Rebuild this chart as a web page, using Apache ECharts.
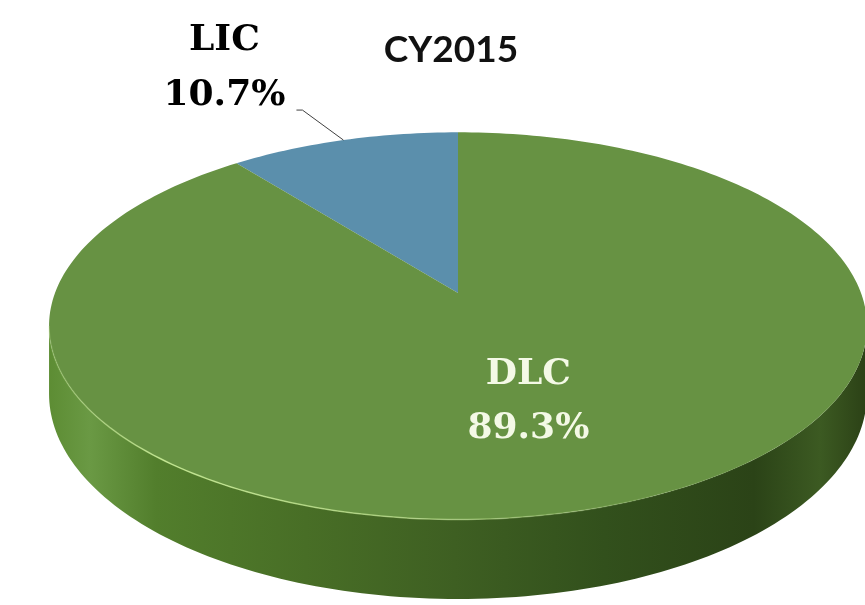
<!DOCTYPE html>
<html>
<head>
<meta charset="utf-8">
<script src="https://cdn.jsdelivr.net/npm/echarts@6/dist/echarts.min.js"></script>
<style>
html, body { margin: 0; padding: 0; background: #fff; }
#main { width: 865px; height: 605px; }
</style>
</head>
<body>
<div id="main"></div>
<script>
var title = "CY2015";
var categories = ["LIC", "DLC"];
var values = [10.7, 89.3];
var topColors = ["#5b8fac", "#679243"];

// fake 3D disc: perspective projection of a tilted circle
var CX = 458, CY = 293;
var A = 403, B = 188, G = 0.17, T = 66;
// slice i starts at startAngle going clockwise from 12 o'clock; LIC ends at top
var total = values[0] + values[1];
var angles = [];
var acc = -values[0] / total * Math.PI * 2;
for (var i = 0; i < values.length; i++) {
	var sweep = values[i] / total * Math.PI * 2;
	angles.push([acc, acc + sweep]);
	acc += sweep;
}

function proj(theta, r, drop) {
	var u = r * Math.sin(theta);
	var v = r * Math.cos(theta);
	var w = 1 + G * v;
	return [CX + A * u / w, CY - B * v / w + (drop || 0) / w];
}

function arcPoints(a0, a1, r, drop) {
	var pts = [];
	var n = Math.max(2, Math.ceil(Math.abs(a1 - a0) / 0.02));
	for (var k = 0; k <= n; k++) {
		pts.push(proj(a0 + (a1 - a0) * k / n, r, drop));
	}
	return pts;
}

// front facing part of the wall lies between these angles
var frontStart = Math.acos(-G);
var frontEnd = Math.PI * 2 - frontStart;

function renderSide(params, api) {
	var a = angles[params.dataIndex];
	var s = Math.max(a[0], frontStart);
	var e = Math.min(a[1], frontEnd);
	if (e <= s) {
		return null;
	}
	var top = arcPoints(s, e, 1, 0);
	var bottom = arcPoints(s, e, 1, T).reverse();
	return {
		type : "polygon",
		shape : { points : top.concat(bottom) },
		style : {
			fill : new echarts.graphic.LinearGradient(40, 0, 870, 0, [
				{ offset : 0, color : "#5a8a30" },
				{ offset : 0.06, color : "#6a9944" },
				{ offset : 0.14, color : "#527e2c" },
				{ offset : 0.32, color : "#486e26" },
				{ offset : 0.5, color : "#3e5f22" },
				{ offset : 0.68, color : "#32501c" },
				{ offset : 0.86, color : "#2b4317" },
				{ offset : 0.94, color : "#3c5a22" },
				{ offset : 1, color : "#2a3f15" }
			], true)
		}
	};
}

function renderTop(params, api) {
	var i = params.dataIndex;
	var a = angles[i];
	var pts = [proj(0, 0, 0)].concat(arcPoints(a[0], a[1], 1, 0));
	var children = [{
		type : "polygon",
		shape : { points : pts },
		style : { fill : topColors[i] }
	}];
	var s = Math.max(a[0], frontStart);
	var e = Math.min(a[1], frontEnd);
	if (e > s) {
		children.push({
			type : "polyline",
			shape : { points : arcPoints(s, e, 1, 0) },
			style : {
				fill : null,
				lineWidth : 1.5,
				stroke : new echarts.graphic.LinearGradient(40, 0, 870, 0, [
					{ offset : 0, color : "rgba(200,235,150,0.2)" },
					{ offset : 0.15, color : "rgba(200,235,150,0.9)" },
					{ offset : 0.45, color : "rgba(200,235,150,0.6)" },
					{ offset : 0.75, color : "rgba(200,235,150,0.1)" },
					{ offset : 1, color : "rgba(200,235,150,0)" }
				], true)
			}
		});
	}
	return { type : "group", children : children };
}

function renderLabel(params, api) {
	var i = params.dataIndex;
	var a = angles[i];
	var mid = (a[0] + a[1]) / 2;
	var text = categories[i] + "\n" + api.value(0).toFixed(1) + "%";
	if (values[i] / total < 0.25) {
		// outside label with leader line
		var p0 = proj(mid, 1, 0);
		var p1 = [p0[0] - 41, p0[1] - 30];
		var p2 = [p1[0] - 6, p1[1]];
		return {
			type : "group",
			children : [{
				type : "polyline",
				shape : { points : [p0, p1, p2] },
				style : { fill : null, stroke : "#404040", lineWidth : 1 }
			}, {
				type : "text",
				x : p2[0] - 72,
				y : p2[1] - 42,
				style : {
					text : text,
					fill : "#000",
					font : "bold 36px 'DejaVu Serif'",
					align : "center",
					verticalAlign : "middle",
					lineHeight : 55
				}
			}]
		};
	}
	var c = proj(mid, 0.52, 0);
	return {
		type : "text",
		x : c[0] - 5,
		y : c[1] + 8,
		style : {
			text : text,
			fill : "#f4f9e6",
			font : "bold 36px 'DejaVu Serif'",
			align : "center",
			verticalAlign : "middle",
			lineHeight : 54
		}
	};
}

var chart = echarts.init(document.getElementById("main"));
chart.setOption({
	animation : false,
	backgroundColor : "#fff",
	title : {
		text : title,
		left : 446,
		top : 27,
		textAlign : "center",
		textStyle : {
			fontFamily : "Lato",
			fontWeight : "bold",
			fontSize : 37,
			color : "#111"
		}
	},
	series : [{
		type : "custom",
		coordinateSystem : "none",
		data : values,
		renderItem : renderSide,
		z : 1
	}, {
		type : "custom",
		coordinateSystem : "none",
		data : values,
		renderItem : renderTop,
		z : 2
	}, {
		type : "custom",
		coordinateSystem : "none",
		data : values,
		renderItem : renderLabel,
		z : 3
	}]
});
</script>
</body>
</html>
